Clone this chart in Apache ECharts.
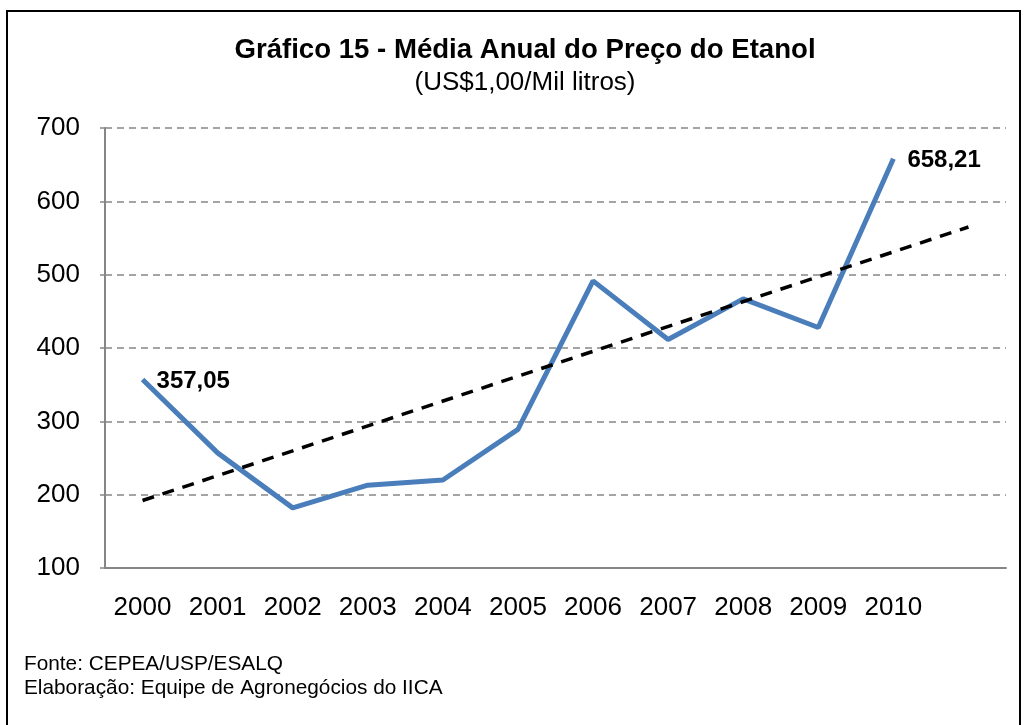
<!DOCTYPE html>
<html>
<head>
<meta charset="utf-8">
<script src="https://cdn.jsdelivr.net/npm/echarts@6/dist/echarts.min.js"></script>
<style>
  html, body { margin: 0; padding: 0; background: #fff; }
  #main { width: 1026px; height: 725px; }
</style>
</head>
<body>
<div id="main"></div>
<script>
// anos (a última categoria fica vazia, só para a linha de tendência)
var anos = ['2000', '2001', '2002', '2003', '2004', '2005', '2006', '2007', '2008', '2009', '2010', '']
var precos = [357.05, 257, 182, 213, 220, 289, 491.5, 411.5, 467, 428, 658.21]
var tendencia = [192, null, null, null, null, null, null, null, null, null, null, 565]
var rotulosY = [100, 200, 300, 400, 500, 600, 700]

var myChart = echarts.init(document.getElementById('main'))

var fonte = 'Liberation Sans, Arial, sans-serif'

var dadosPreco = precos.map(function (v, i) {
  var item = { value: v }
  if (i === 0 || i === precos.length - 1) {
    item.label = {
      show: true,
      position: 'right',
      distance: 14,
      offset: [0, 2],
      fontFamily: fonte,
      fontWeight: 'bold',
      fontSize: 24,
      color: '#000',
      formatter: function (p) {
        return p.value.toFixed(2).replace('.', ',')
      }
    }
  }
  return item
})

var option = {
  backgroundColor: '#fff',
  animation: false,
  textStyle: { fontFamily: fonte },
  title: [
    {
      text: 'Gráfico 15 - Média Anual do Preço do Etanol',
      left: 520,
      textAlign: 'center',
      top: 31,
      textStyle: {
        fontFamily: fonte,
        fontWeight: 'bold',
        fontSize: 27.6,
        color: '#000'
      }
    },
    {
      text: '(US$1,00/Mil litros)',
      left: 520,
      textAlign: 'center',
      top: 65,
      textStyle: {
        fontFamily: fonte,
        fontWeight: 'normal',
        fontSize: 26,
        color: '#000'
      }
    }
  ],
  graphic: [
    {
      type: 'rect',
      shape: { x: 7, y: 11, width: 1013, height: 730 },
      style: { fill: 'none', stroke: '#000', lineWidth: 2 },
      silent: true
    },
    {
      type: 'text',
      left: 24,
      top: 652,
      style: {
        text: 'Fonte: CEPEA/USP/ESALQ\nElaboração: Equipe de Agronegócios do IICA',
        fontFamily: fonte,
        fontSize: 20.8,
        lineHeight: 24.5,
        fill: '#000'
      }
    }
  ],
  grid: {
    left: 105,
    right: 20,
    top: 128,
    bottom: 157
  },
  xAxis: {
    type: 'category',
    data: anos,
    boundaryGap: true,
    axisTick: { show: false },
    axisLine: {
      show: true,
      lineStyle: { color: '#868686', width: 2 }
    },
    axisLabel: {
      interval: 0,
      margin: 27,
      fontFamily: fonte,
      fontSize: 26,
      color: '#000'
    },
    splitLine: { show: false }
  },
  yAxis: {
    type: 'value',
    min: 100,
    max: 700,
    interval: 100,
    axisLine: {
      show: true,
      lineStyle: { color: '#868686', width: 2 }
    },
    axisTick: {
      show: true,
      length: 5,
      lineStyle: { color: '#868686', width: 1.5 }
    },
    axisLabel: {
      margin: 25,
      fontFamily: fonte,
      fontSize: 26,
      color: '#000',
      formatter: function (v) {
        return rotulosY.indexOf(v) >= 0 ? String(v) : ''
      }
    },
    splitLine: {
      show: true,
      lineStyle: {
        color: '#868686',
        width: 1.5,
        type: [7, 5]
      }
    }
  },
  series: [
    {
      name: 'Preço',
      type: 'line',
      data: dadosPreco,
      symbol: 'circle',
      symbolSize: 0,
      showSymbol: true,
      z: 3,
      lineStyle: { color: '#4a7ebb', width: 5 },
      itemStyle: { color: '#4a7ebb' }
    },
    {
      name: 'Tendência',
      type: 'line',
      data: tendencia,
      connectNulls: true,
      symbol: 'none',
      z: 4,
      lineStyle: { color: '#000', width: 3.5, type: [12, 9] }
    }
  ]
}

myChart.setOption(option)
</script>
</body>
</html>
